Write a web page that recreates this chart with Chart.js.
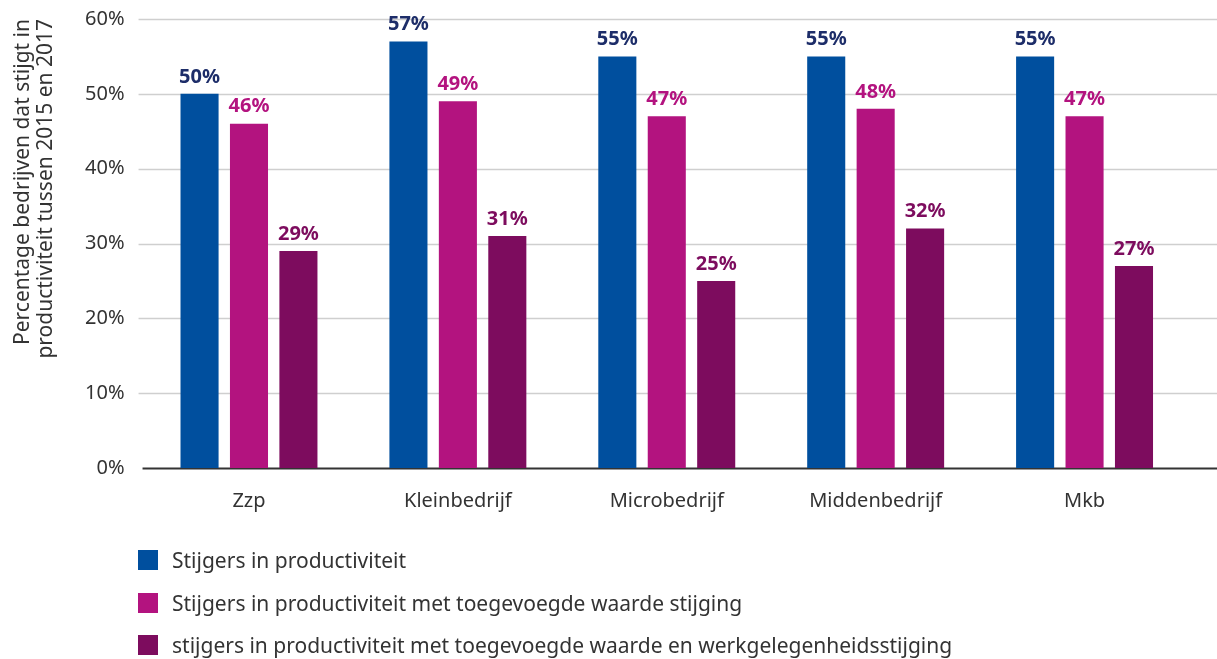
<!DOCTYPE html>
<html>
<head>
<meta charset="utf-8">
<script src="https://cdn.jsdelivr.net/npm/chart.js@4.4.1/dist/chart.umd.min.js"></script>
<style>
    body { margin: 0; background: #fff; font-family: "Noto Sans", sans-serif; overflow: hidden; }
    #wrap { position: relative; width: 1217px; height: 659px; overflow: hidden; }
    #chart { position: absolute; left: 0; top: -5px; }
    #legend { position: absolute; left: 138px; top: 547px; margin: 0; padding: 0; list-style: none; }
    #legend li { display: flex; align-items: center; height: 26px; margin-bottom: 16.5px; font-size: 21px; color: #333; }
    #legend span.box { display: inline-block; width: 20px; height: 20px; margin-right: 14px; }
</style>
</head>
<body>
<div id="wrap">
    <canvas id="chart" width="1217" height="659"></canvas>
    <ul id="legend"></ul>
</div>
<script>
// Data
const categories = ["Zzp", "Kleinbedrijf", "Microbedrijf", "Middenbedrijf", "Mkb"];
const seriesNames = [
    "Stijgers in productiviteit",
    "Stijgers in productiviteit met toegevoegde waarde stijging",
    "stijgers in productiviteit met toegevoegde waarde en werkgelegenheidsstijging"
];
const stijgers = [50, 57, 55, 55, 55];
const stijgersWaarde = [46, 49, 47, 48, 47];
const stijgersWerk = [29, 31, 25, 32, 27];
const yTicks = [0, 10, 20, 30, 40, 50, 60];

const barColors = ["#004f9e", "#b3137f", "#7d0c5e"];
const labelColors = ["#1d2d69", "#b3137f", "#7d0c5e"];
const FONT = "'Noto Sans', sans-serif";

// Gridlines run past the chart area to the right edge, like the original
const gridPlugin = {
    id: "wideGrid",
    beforeDatasetsDraw(chart) {
        const { ctx, scales: { y }, width } = chart;
        ctx.save();
        yTicks.forEach(v => {
            const py = Math.round(y.getPixelForValue(v)) + 0.5;
            ctx.beginPath();
            if (v === 0) {
                ctx.strokeStyle = "#333";
                ctx.lineWidth = 2;
                ctx.moveTo(chart.chartArea.left - 2, py);
            } else {
                ctx.strokeStyle = "#cfcfcf";
                ctx.lineWidth = 1.5;
                ctx.moveTo(chart.chartArea.left - 6, py);
            }
            ctx.lineTo(width, py);
            ctx.stroke();
        });
        ctx.restore();
    }
};

// Value labels above bars
const valueLabels = {
    id: "valueLabels",
    afterDatasetsDraw(chart) {
        const ctx = chart.ctx;
        ctx.save();
        ctx.font = "bold 20px " + FONT;
        ctx.textAlign = "center";
        ctx.textBaseline = "bottom";
        chart.data.datasets.forEach((ds, i) => {
            ctx.fillStyle = labelColors[i];
            chart.getDatasetMeta(i).data.forEach((bar, j) => {
                ctx.fillText(ds.data[j] + "%", bar.x, bar.y - 7);
            });
        });
        ctx.restore();
    }
};

const datasets = [stijgers, stijgersWaarde, stijgersWerk].map((d, i) => ({
    label: seriesNames[i],
    data: d,
    backgroundColor: barColors[i],
    categoryPercentage: 0.71,
    barPercentage: 0.77
}));

const chart = new Chart(document.getElementById("chart"), {
    type: "bar",
    data: { labels: categories, datasets: datasets },
    options: {
        responsive: false,
        animation: false,
        layout: { padding: { left: 11, right: 28, top: 2, bottom: 128 } },
        plugins: {
            legend: { display: false },
            tooltip: { enabled: false }
        },
        scales: {
            x: {
                grid: { display: false },
                border: { display: false },
                ticks: { color: "#333", font: { family: FONT, size: 20 }, padding: 13 }
            },
            y: {
                min: 0,
                max: 60,
                grid: { display: false },
                border: { display: false },
                ticks: {
                    stepSize: 10,
                    color: "#333",
                    padding: 12,
                    font: { family: FONT, size: 20 },
                    callback: v => v + "%"
                },
                title: {
                    display: true,
                    text: ["Percentage bedrijven dat stijgt in", "productiviteit tussen 2015 en 2017"],
                    align: "end",
                    color: "#333",
                    font: { family: FONT, size: 21, lineHeight: 1.12 },
                    padding: { top: 0, bottom: 15 }
                }
            }
        }
    },
    plugins: [gridPlugin, valueLabels]
});

// HTML legend
const legend = document.getElementById("legend");
chart.data.datasets.forEach(ds => {
    const li = document.createElement("li");
    li.innerHTML = `<span class="box" style="background:${ds.backgroundColor}"></span>${ds.label}`;
    legend.appendChild(li);
});
</script>
</body>
</html>
